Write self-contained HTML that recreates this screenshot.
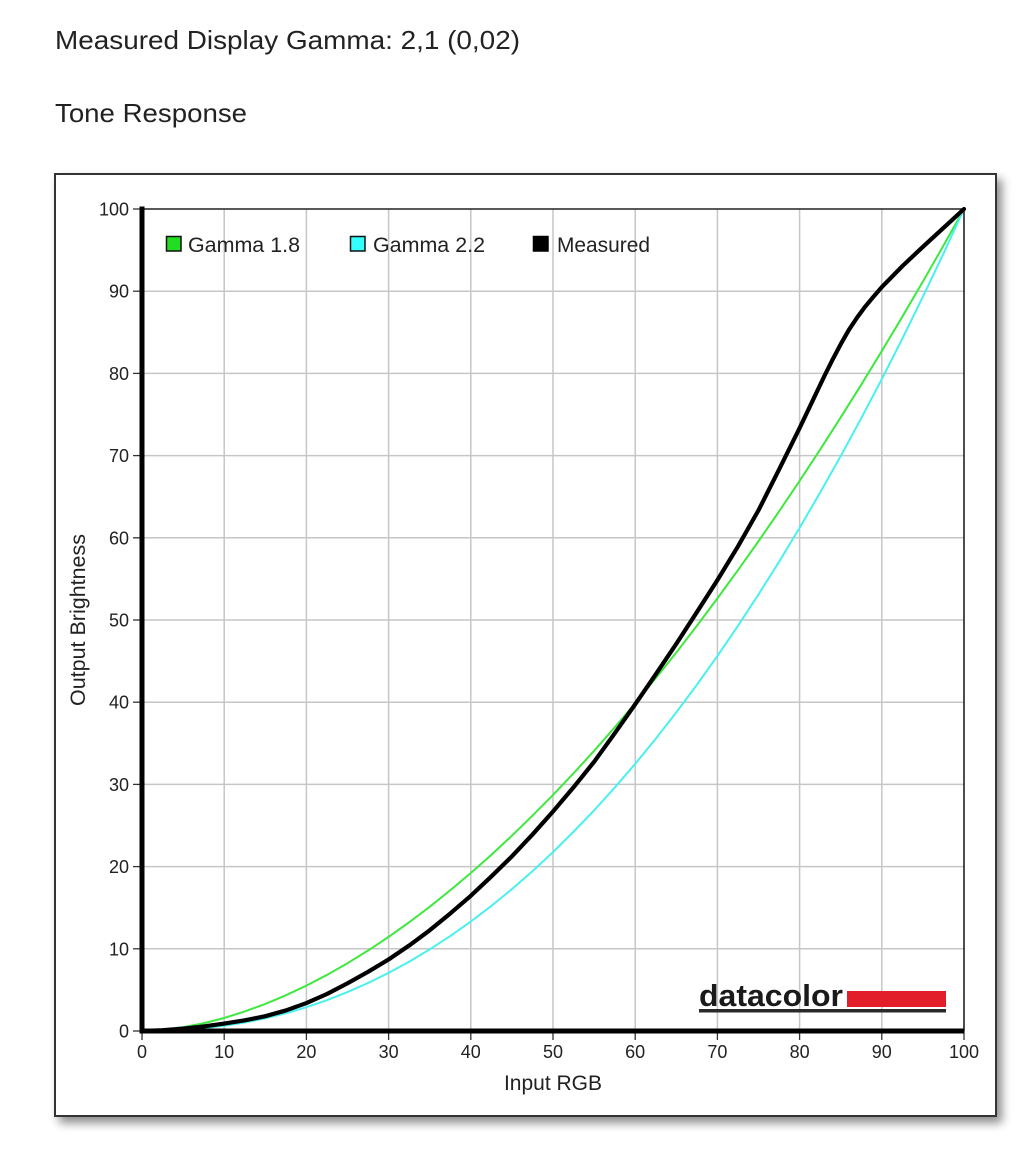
<!DOCTYPE html>
<html>
<head>
<meta charset="utf-8">
<style>
  html,body{margin:0;padding:0;background:#fff;}
  body{width:1029px;height:1153px;position:relative;overflow:hidden;}
  #box{position:absolute;left:54px;top:173px;width:939px;height:940px;border:2px solid #333;background:#fff;box-shadow:5px 6px 9px rgba(0,0,0,0.45);}
  svg{position:absolute;left:0;top:0;}
  text{font-family:"Liberation Sans",Arial,sans-serif;fill:#222;}
</style>
</head>
<body>
<div id="box"></div>
<svg width="1029" height="1153" viewBox="0 0 1029 1153" xmlns="http://www.w3.org/2000/svg">
  <!-- headings -->
  <text x="55" y="49" font-size="26" textLength="465" lengthAdjust="spacingAndGlyphs">Measured Display Gamma: 2,1 (0,02)</text>
  <text x="55" y="122" font-size="26" textLength="192" lengthAdjust="spacingAndGlyphs">Tone Response</text>

  <!-- grid -->
  <g stroke="#c6c6c6" stroke-width="1.5">
    <line x1="224.2" y1="209" x2="224.2" y2="1031"/>
    <line x1="306.4" y1="209" x2="306.4" y2="1031"/>
    <line x1="388.6" y1="209" x2="388.6" y2="1031"/>
    <line x1="470.8" y1="209" x2="470.8" y2="1031"/>
    <line x1="553" y1="209" x2="553" y2="1031"/>
    <line x1="635.2" y1="209" x2="635.2" y2="1031"/>
    <line x1="717.4" y1="209" x2="717.4" y2="1031"/>
    <line x1="799.6" y1="209" x2="799.6" y2="1031"/>
    <line x1="881.8" y1="209" x2="881.8" y2="1031"/>
    <line x1="142" y1="948.8" x2="964" y2="948.8"/>
    <line x1="142" y1="866.6" x2="964" y2="866.6"/>
    <line x1="142" y1="784.4" x2="964" y2="784.4"/>
    <line x1="142" y1="702.2" x2="964" y2="702.2"/>
    <line x1="142" y1="620" x2="964" y2="620"/>
    <line x1="142" y1="537.8" x2="964" y2="537.8"/>
    <line x1="142" y1="455.6" x2="964" y2="455.6"/>
    <line x1="142" y1="373.4" x2="964" y2="373.4"/>
    <line x1="142" y1="291.2" x2="964" y2="291.2"/>
  </g>

  <!-- top/right frame -->
  <g stroke="#222" stroke-width="1.6">
    <line x1="142" y1="209" x2="964" y2="209"/>
    <line x1="964" y1="209" x2="964" y2="1031"/>
  </g>

  <!-- ticks -->
  <g stroke="#333" stroke-width="1.3">
    <line x1="133" y1="1031" x2="142" y2="1031"/>
    <line x1="133" y1="948.8" x2="142" y2="948.8"/>
    <line x1="133" y1="866.6" x2="142" y2="866.6"/>
    <line x1="133" y1="784.4" x2="142" y2="784.4"/>
    <line x1="133" y1="702.2" x2="142" y2="702.2"/>
    <line x1="133" y1="620" x2="142" y2="620"/>
    <line x1="133" y1="537.8" x2="142" y2="537.8"/>
    <line x1="133" y1="455.6" x2="142" y2="455.6"/>
    <line x1="133" y1="373.4" x2="142" y2="373.4"/>
    <line x1="133" y1="291.2" x2="142" y2="291.2"/>
    <line x1="133" y1="209" x2="142" y2="209"/>
    <line x1="142" y1="1031" x2="142" y2="1040"/>
    <line x1="224.2" y1="1031" x2="224.2" y2="1040"/>
    <line x1="306.4" y1="1031" x2="306.4" y2="1040"/>
    <line x1="388.6" y1="1031" x2="388.6" y2="1040"/>
    <line x1="470.8" y1="1031" x2="470.8" y2="1040"/>
    <line x1="553" y1="1031" x2="553" y2="1040"/>
    <line x1="635.2" y1="1031" x2="635.2" y2="1040"/>
    <line x1="717.4" y1="1031" x2="717.4" y2="1040"/>
    <line x1="799.6" y1="1031" x2="799.6" y2="1040"/>
    <line x1="881.8" y1="1031" x2="881.8" y2="1040"/>
    <line x1="964" y1="1031" x2="964" y2="1040"/>
  </g>

  <!-- y tick labels -->
  <g font-size="18" text-anchor="end">
    <text x="129" y="1037.5">0</text>
    <text x="129" y="955.3">10</text>
    <text x="129" y="873.1">20</text>
    <text x="129" y="790.9">30</text>
    <text x="129" y="708.7">40</text>
    <text x="129" y="626.5">50</text>
    <text x="129" y="544.3">60</text>
    <text x="129" y="462.1">70</text>
    <text x="129" y="379.9">80</text>
    <text x="129" y="297.7">90</text>
    <text x="129" y="215.5">100</text>
  </g>

  <!-- x tick labels -->
  <g font-size="18" text-anchor="middle">
    <text x="142" y="1058">0</text>
    <text x="224.2" y="1058">10</text>
    <text x="306.4" y="1058">20</text>
    <text x="388.6" y="1058">30</text>
    <text x="470.8" y="1058">40</text>
    <text x="553" y="1058">50</text>
    <text x="635.2" y="1058">60</text>
    <text x="717.4" y="1058">70</text>
    <text x="799.6" y="1058">80</text>
    <text x="881.8" y="1058">90</text>
    <text x="964" y="1058">100</text>
  </g>

  <!-- axis titles -->
  <text x="553" y="1090" font-size="21" text-anchor="middle">Input RGB</text>
  <text transform="translate(85,620) rotate(-90)" x="0" y="0" font-size="21" text-anchor="middle" textLength="172" lengthAdjust="spacingAndGlyphs">Output Brightness</text>

  <!-- datacolor logo -->
  <text x="699" y="1006" font-size="31" font-weight="bold" textLength="144" lengthAdjust="spacingAndGlyphs" style="fill:#1a1a1a">datacolor</text>
  <rect x="847" y="991" width="99" height="16" fill="#e31e2b"/>
  <rect x="699" y="1009" width="247" height="3.5" fill="#2a2a2a"/>

  <!-- curves -->
  <g transform="translate(142,1031) scale(8.22,-8.22)" fill="none" stroke-linejoin="round" stroke-linecap="round">
    <polyline vector-effect="non-scaling-stroke" stroke="#3ee83e" stroke-width="2"
      points="0,0 2.5,0.13 5,0.455 7.5,0.94 10,1.585 12.5,2.38 15,3.29 17.5,4.34 20,5.519 22.5,6.82 25,8.247 27.5,9.79 30,11.45 32.5,13.23 35,15.11 37.5,17.12 40,19.22 42.5,21.43 45,23.76 47.5,26.19 50,28.72 52.5,31.35 55,34.09 57.5,36.93 60,39.87 62.5,42.91 65,46.05 67.5,49.29 70,52.63 72.5,56.06 75,59.58 77.5,63.21 80,66.92 82.5,70.73 85,74.64 87.5,78.63 90,82.72 92.5,86.90 95,91.18 97.5,95.54 100,100"/>
    <polyline vector-effect="non-scaling-stroke" stroke="#4af0f0" stroke-width="2"
      points="0,0 2.5,0.03 5,0.137 7.5,0.336 10,0.631 12.5,1.03 15,1.54 17.5,2.16 20,2.899 22.5,3.75 25,4.737 27.5,5.84 30,7.074 32.5,8.43 35,9.929 37.5,11.55 40,13.32 42.5,15.22 45,17.26 47.5,19.44 50,21.76 52.5,24.24 55,26.84 57.5,29.60 60,32.50 62.5,35.56 65,38.76 67.5,42.11 70,45.62 72.5,49.29 75,53.11 77.5,57.08 80,61.21 82.5,65.51 85,69.94 87.5,74.55 90,79.31 92.5,84.23 95,89.33 97.5,94.57 100,100"/>
    <polyline vector-effect="non-scaling-stroke" stroke="#000" stroke-width="4.2"
      points="0,0 2.5,0.1 5,0.3 7.5,0.55 10,0.9 12.5,1.3 15,1.8 17.5,2.5 20,3.4 22.5,4.5 25,5.8 27.5,7.2 30,8.7 32.5,10.4 35,12.25 37.5,14.3 40,16.45 42.5,18.8 45,21.25 47.5,23.9 50,26.7 52.5,29.65 55,32.75 57.5,36.2 60,39.75 62.5,43.4 65,47.1 67.5,50.95 70,54.85 72.5,58.95 75,63.35 77.5,68.3 80,73.35 81.5,76.5 83,79.65 84,81.65 85,83.55 86,85.3 87,86.8 88,88.15 89,89.35 90,90.5 92.5,93.05 95,95.4 97.5,97.7 100,100"/>
  </g>

  <!-- thick axes -->
  <line x1="142" y1="206.5" x2="142" y2="1033.5" stroke="#000" stroke-width="5"/>
  <line x1="139.5" y1="1031" x2="964" y2="1031" stroke="#000" stroke-width="5"/>

  <!-- legend -->
  <rect x="166.5" y="236.5" width="14.5" height="14.5" fill="#22dd22" stroke="#111" stroke-width="1.5"/>
  <text x="188" y="252" font-size="21" textLength="112" lengthAdjust="spacingAndGlyphs">Gamma 1.8</text>
  <rect x="350.5" y="236.5" width="14.5" height="14.5" fill="#33ffff" stroke="#111" stroke-width="1.5"/>
  <text x="373" y="252" font-size="21" textLength="112" lengthAdjust="spacingAndGlyphs">Gamma 2.2</text>
  <rect x="533.5" y="236.5" width="14.5" height="14.5" fill="#000" stroke="#000" stroke-width="1.5"/>
  <text x="557" y="252" font-size="21" textLength="93" lengthAdjust="spacingAndGlyphs">Measured</text>
</svg>
</body>
</html>
